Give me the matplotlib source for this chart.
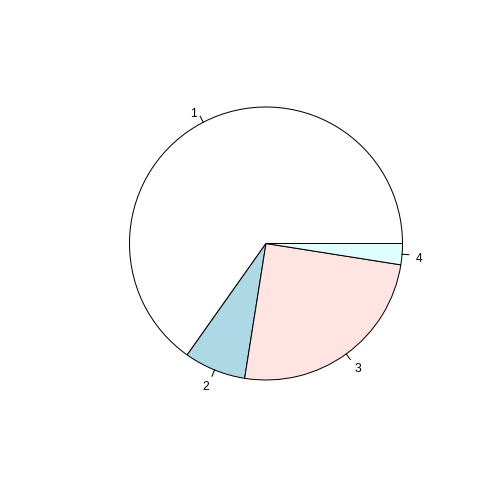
import matplotlib
matplotlib.use("Agg")
import matplotlib.pyplot as plt
import matplotlib.transforms as mtransforms
import numpy as np

labels = ["1", "2", "3", "4"]
values = [0.652, 0.073, 0.25, 0.025]
colors = ["white", "lightblue", "mistyrose", "lightcyan"]

# pixel geometry of the pie in the 504x504 image
cx, cy, r = 266.0, 243.5, 136.5
W = H = 504

plt.rcParams["font.family"] = ["Liberation Sans", "DejaVu Sans"]

fig = plt.figure(figsize=(7, 7), dpi=72)
ax = fig.add_axes([0, 0, 1, 1])

ax.pie(values, colors=colors, startangle=0, counterclock=True, radius=1,
       center=(0, 0), frame=True,
       wedgeprops=dict(edgecolor="black", linewidth=1.0))
ax.set_xlim(-cx / r, (W - cx) / r)
ax.set_ylim(-(H - cy) / r, cy / r)
ax.set_aspect("equal")
ax.axis("off")

# labels sit a little lower in R than matplotlib's centring
shift = mtransforms.offset_copy(ax.transData, fig=fig, x=0, y=-2.5, units="dots")

# tick marks and labels at the middle of each slice (like R's pie)
frac = np.array(values) / np.sum(values)
edges = np.concatenate([[0], np.cumsum(frac)]) * 2 * np.pi
for i, lab in enumerate(labels):
    a = (edges[i] + edges[i + 1]) / 2
    x, y = np.cos(a), np.sin(a)
    ax.plot([x, 1.05 * x], [y, 1.05 * y], color="black", linewidth=1.0)
    ax.text(1.1 * x, 1.1 * y, lab, fontsize=12, color="black",
            ha="right" if x < 0 else "left", va="center_baseline",
            transform=shift)

fig.savefig("out.png", dpi=72)
